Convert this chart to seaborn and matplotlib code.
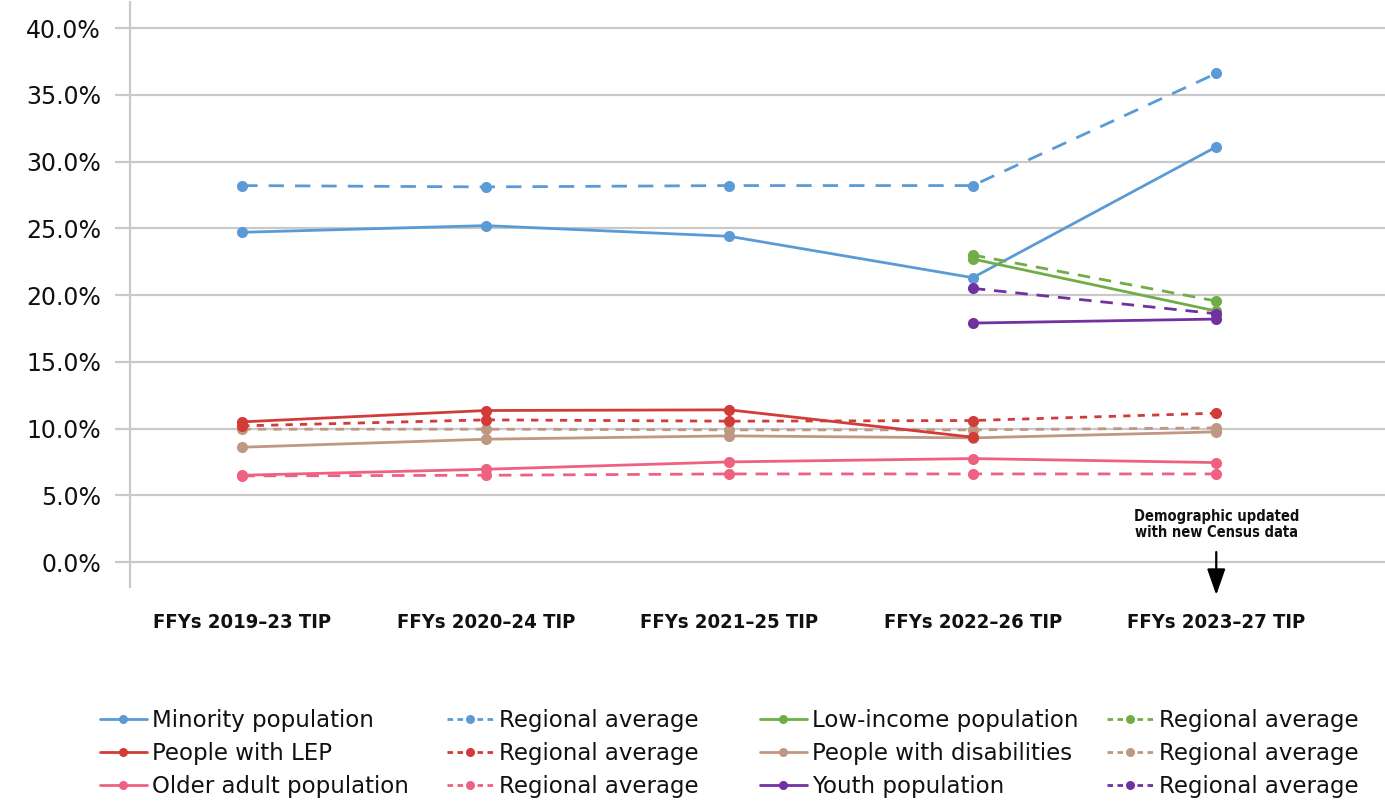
import matplotlib
matplotlib.use("Agg")
import matplotlib.pyplot as plt
from matplotlib.lines import Line2D
from matplotlib.ticker import FuncFormatter
from matplotlib import font_manager
import seaborn as sns
import pandas as pd

# ---- data (share of population, %) ----
programs = ["FFYs 2019\u201323 TIP", "FFYs 2020\u201324 TIP", "FFYs 2021\u201325 TIP",
            "FFYs 2022\u201326 TIP", "FFYs 2023\u201327 TIP"]

minority = [24.7, 25.2, 24.4, 21.3, 31.1]
minority_reg = [28.2, 28.1, 28.2, 28.2, 36.6]
lep = [10.5, 11.35, 11.4, 9.35]
lep_reg = [10.2, 10.65, 10.55, 10.6, 11.15]
older = [6.5, 6.95, 7.5, 7.75, 7.45]
older_reg = [6.45, 6.5, 6.6, 6.6, 6.6]
low_income = [22.7, 18.8]
low_income_reg = [23.0, 19.55]
disab = [8.6, 9.2, 9.45, 9.3, 9.75]
disab_reg = [9.95, 9.95, 9.9, 9.9, 10.05]
youth = [17.9, 18.2]
youth_reg = [20.5, 18.6]

legend_labels = [
    ["Minority population", "People with LEP", "Older adult population"],
    ["Regional average", "Regional average", "Regional average"],
    ["Low-income population", "People with disabilities", "Youth population"],
    ["Regional average", "Regional average", "Regional average"],
]

BLUE, RED, GREEN = "#5B9BD5", "#D13B38", "#70AD47"
BROWN, PINK, PURPLE = "#BE9882", "#EF6180", "#7131A1"

# (key, values, first program index, colour, dash pattern)
series = [
    ("minority", minority, 0, BLUE, ""),
    ("minority_reg", minority_reg, 0, BLUE, (5.5, 4.0)),
    ("disab_reg", disab_reg, 0, BROWN, (3.0, 2.6)),
    ("disab", disab, 0, BROWN, ""),
    ("older_reg", older_reg, 0, PINK, (4.5, 3.2)),
    ("older", older, 0, PINK, ""),
    ("lep_reg", lep_reg, 0, RED, (2.6, 2.6)),
    ("lep", lep, 0, RED, ""),
    ("low_income_reg", low_income_reg, 3, GREEN, (4.5, 3.2)),
    ("low_income", low_income, 3, GREEN, ""),
    ("youth_reg", youth_reg, 3, PURPLE, (4.5, 3.2)),
    ("youth", youth, 3, PURPLE, ""),
]

rows = []
for key, vals, start, _, _ in series:
    for i, v in enumerate(vals):
        rows.append({"series": key, "pos": start + i, "value": v})
df = pd.DataFrame(rows)

palette = {k: c for k, _, _, c, _ in series}
dashes = {k: d for k, _, _, _, d in series}
markers = {k: "o" for k, _, _, _, _ in series}

sns.set_theme(style="white")
plt.rcParams["font.family"] = ["DejaVu Sans"]
GRID = "#C9C9C9"

# narrow face for the category labels and the note
narrow_names = {f.name for f in font_manager.fontManager.ttflist}
NARROW = "Liberation Sans Narrow" if "Liberation Sans Narrow" in narrow_names else "DejaVu Sans"
narrow_kw = dict(family=NARROW, fontweight="bold", fontstretch="condensed")

fig = plt.figure(figsize=(13.85, 8.02), dpi=100)
ax = fig.add_axes([130 / 1385, 1 - 587 / 802, 1255 / 1385, 585 / 802])

sns.lineplot(data=df, x="pos", y="value", hue="series", style="series",
             hue_order=[s[0] for s in series], style_order=[s[0] for s in series],
             palette=palette, dashes=dashes, markers=markers,
             linewidth=2.0, markersize=8, markeredgewidth=0,
             legend=False, ax=ax)

ax.set_xlim(-0.461, 4.693)
ax.set_ylim(-1.87, 41.95)
ax.set_yticks(range(0, 41, 5))
ax.yaxis.set_major_formatter(FuncFormatter(lambda v, _: f"{v:.1f}%"))
ax.set_xticks(range(len(programs)))
ax.set_xticklabels(programs, fontsize=14.5, **narrow_kw)
ax.set_xlabel("")
ax.set_ylabel("")

ax.grid(axis="y", color=GRID, linewidth=1.6)
ax.grid(axis="x", visible=False)
ax.set_axisbelow(True)
for s in ("top", "right", "bottom"):
    ax.spines[s].set_visible(False)
ax.spines["left"].set_color(GRID)
ax.spines["left"].set_linewidth(1.6)
ax.tick_params(axis="y", length=10.8, width=1.6, color=GRID, pad=10, labelsize=17,
               labelcolor="#111111", left=True)
ax.tick_params(axis="x", length=0, pad=19, labelcolor="#111111")

# note about the census update with a downward arrow
ax.annotate("", xy=(4, -2.47), xytext=(4, 0.75), xycoords="data",
            annotation_clip=False,
            arrowprops=dict(arrowstyle="-|>,head_length=1.0,head_width=0.35",
                            color="black", lw=1.6, mutation_scale=16,
                            shrinkA=0, shrinkB=0))
ax.text(4, 2.81, "Demographic updated\nwith new Census data", ha="center", va="center",
        fontsize=10.5, linespacing=1.1, color="#111111", clip_on=False, **narrow_kw)

# legend: four columns placed separately
col_colors = [[BLUE, RED, PINK], [BLUE, RED, PINK],
              [GREEN, BROWN, PURPLE], [GREEN, BROWN, PURPLE]]
col_x = [100, 447, 760, 1107]
for c in range(4):
    handles = []
    for r in range(3):
        ls = "-" if c % 2 == 0 else (0, (2.0, 1.6))
        handles.append(Line2D([], [], color=col_colors[c][r], linestyle=ls,
                              linewidth=2.0, marker="o", markersize=6.5,
                              markeredgewidth=0))
    leg = fig.legend(handles, legend_labels[c], loc="upper left",
                     bbox_to_anchor=(col_x[c] / 1385, 1 - 709 / 802),
                     frameon=False, fontsize=16.5, handlelength=2.05,
                     handletextpad=0.22, labelspacing=0.44, borderpad=0,
                     borderaxespad=0)
    for t in leg.get_texts():
        t.set_color("#111111")

fig.savefig("out.png", dpi=100)
